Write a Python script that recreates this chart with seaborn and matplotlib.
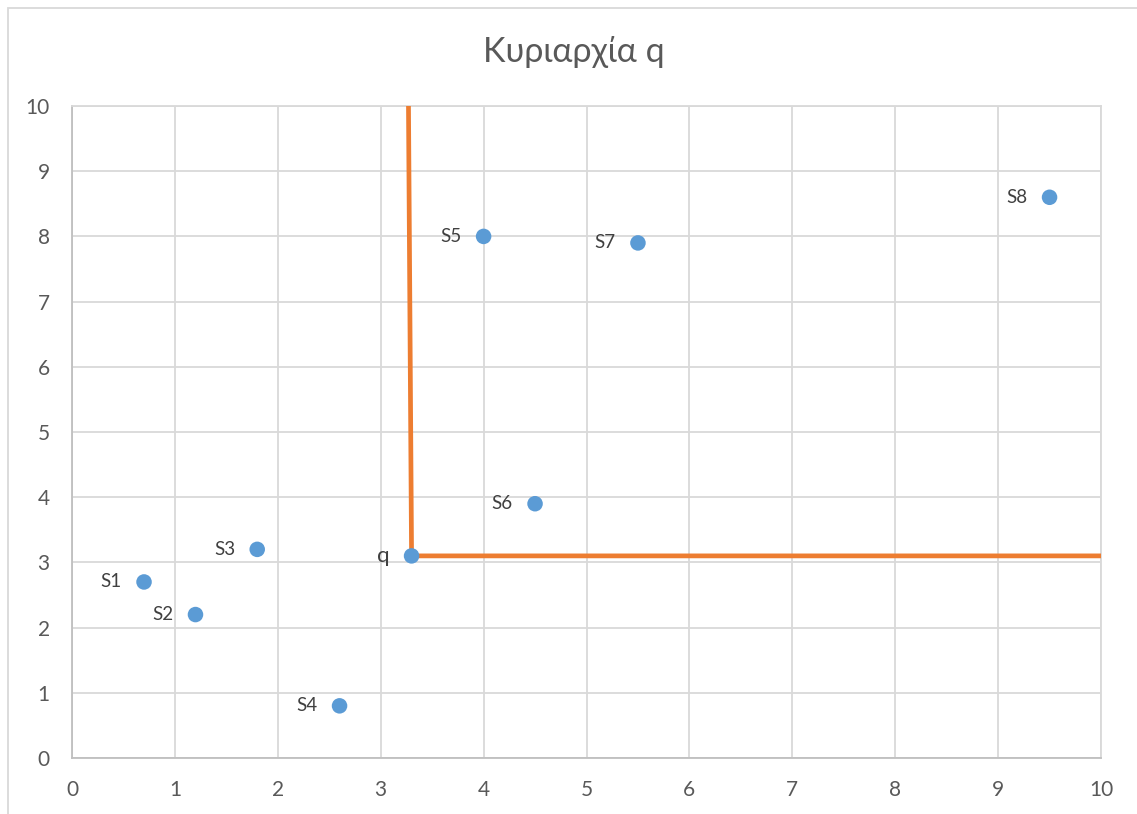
import matplotlib
matplotlib.use("Agg")
import matplotlib.pyplot as plt
import seaborn as sns
import pandas as pd
from matplotlib.patches import Rectangle

# Data points
names = ["S1", "S2", "S3", "S4", "q", "S5", "S6", "S7", "S8"]
xs = [0.7, 1.2, 1.8, 2.6, 3.3, 4.0, 4.5, 5.5, 9.5]
ys = [2.7, 2.2, 3.2, 0.8, 3.1, 8.0, 3.9, 7.9, 8.6]

# Dominance boundary of q
line_x = [3.27, 3.3, 10.0]
line_y = [10.0, 3.1, 3.1]

title = "Κυριαρχία q"
ticks = list(range(0, 11))

sns.set_theme(style="white")
plt.rcParams["font.family"] = ["Lato", "DejaVu Sans"]

text_col = "#595959"
grid_col = "#D9D9D9"
blue = "#5B9BD5"
orange = "#ED7D31"

fig = plt.figure(figsize=(11.37, 8.14), dpi=100)
ax = fig.add_axes([72 / 1137, (814 - 758) / 814, (1101 - 72) / 1137, (758 - 106) / 814])

pts = pd.DataFrame({"x": xs, "y": ys, "name": names})
ln = pd.DataFrame({"x": line_x, "y": line_y})

sns.lineplot(data=ln, x="x", y="y", sort=False, color=orange, linewidth=3.4,
             ax=ax, zorder=3)
sns.scatterplot(data=pts, x="x", y="y", color=blue, s=125, edgecolor="none",
                ax=ax, zorder=4)

for n, x, y in zip(names, xs, ys):
    off = -16
    fs = 16 if n == "q" else 13.5
    ax.annotate(n, (x, y), xytext=(off, 0), textcoords="offset points",
                ha="right", va="center", fontsize=fs, color="#404040")

ax.set_xlim(0, 10)
ax.set_ylim(0, 10)
ax.set_xticks(ticks)
ax.set_yticks(ticks)
ax.set_xticklabels([str(t) for t in ticks])
ax.set_yticklabels([str(t) for t in ticks])
ax.grid(True, color=grid_col, linewidth=1.3)
ax.set_axisbelow(True)
ax.tick_params(axis="both", length=0, labelsize=15, colors=text_col)
ax.tick_params(axis="x", pad=16)
ax.tick_params(axis="y", pad=16)
ax.set_xlabel("")
ax.set_ylabel("")
for side in ["top", "right"]:
    ax.spines[side].set_color(grid_col)
    ax.spines[side].set_linewidth(1.3)
for side in ["left", "bottom"]:
    ax.spines[side].set_color("#BFBFBF")
    ax.spines[side].set_linewidth(1.3)

fig.text(574 / 1137, 1 - 52 / 814, title, ha="center", va="center",
         fontsize=24.5, color=text_col)

# Chart area frame
fig.patches.append(Rectangle((8 / 1137, -0.05), 1.2, (814 - 8) / 814 + 0.05,
                             transform=fig.transFigure, fill=False,
                             edgecolor="#D9D9D9", linewidth=1.3))

fig.savefig("out.png", dpi=100, facecolor="white")
